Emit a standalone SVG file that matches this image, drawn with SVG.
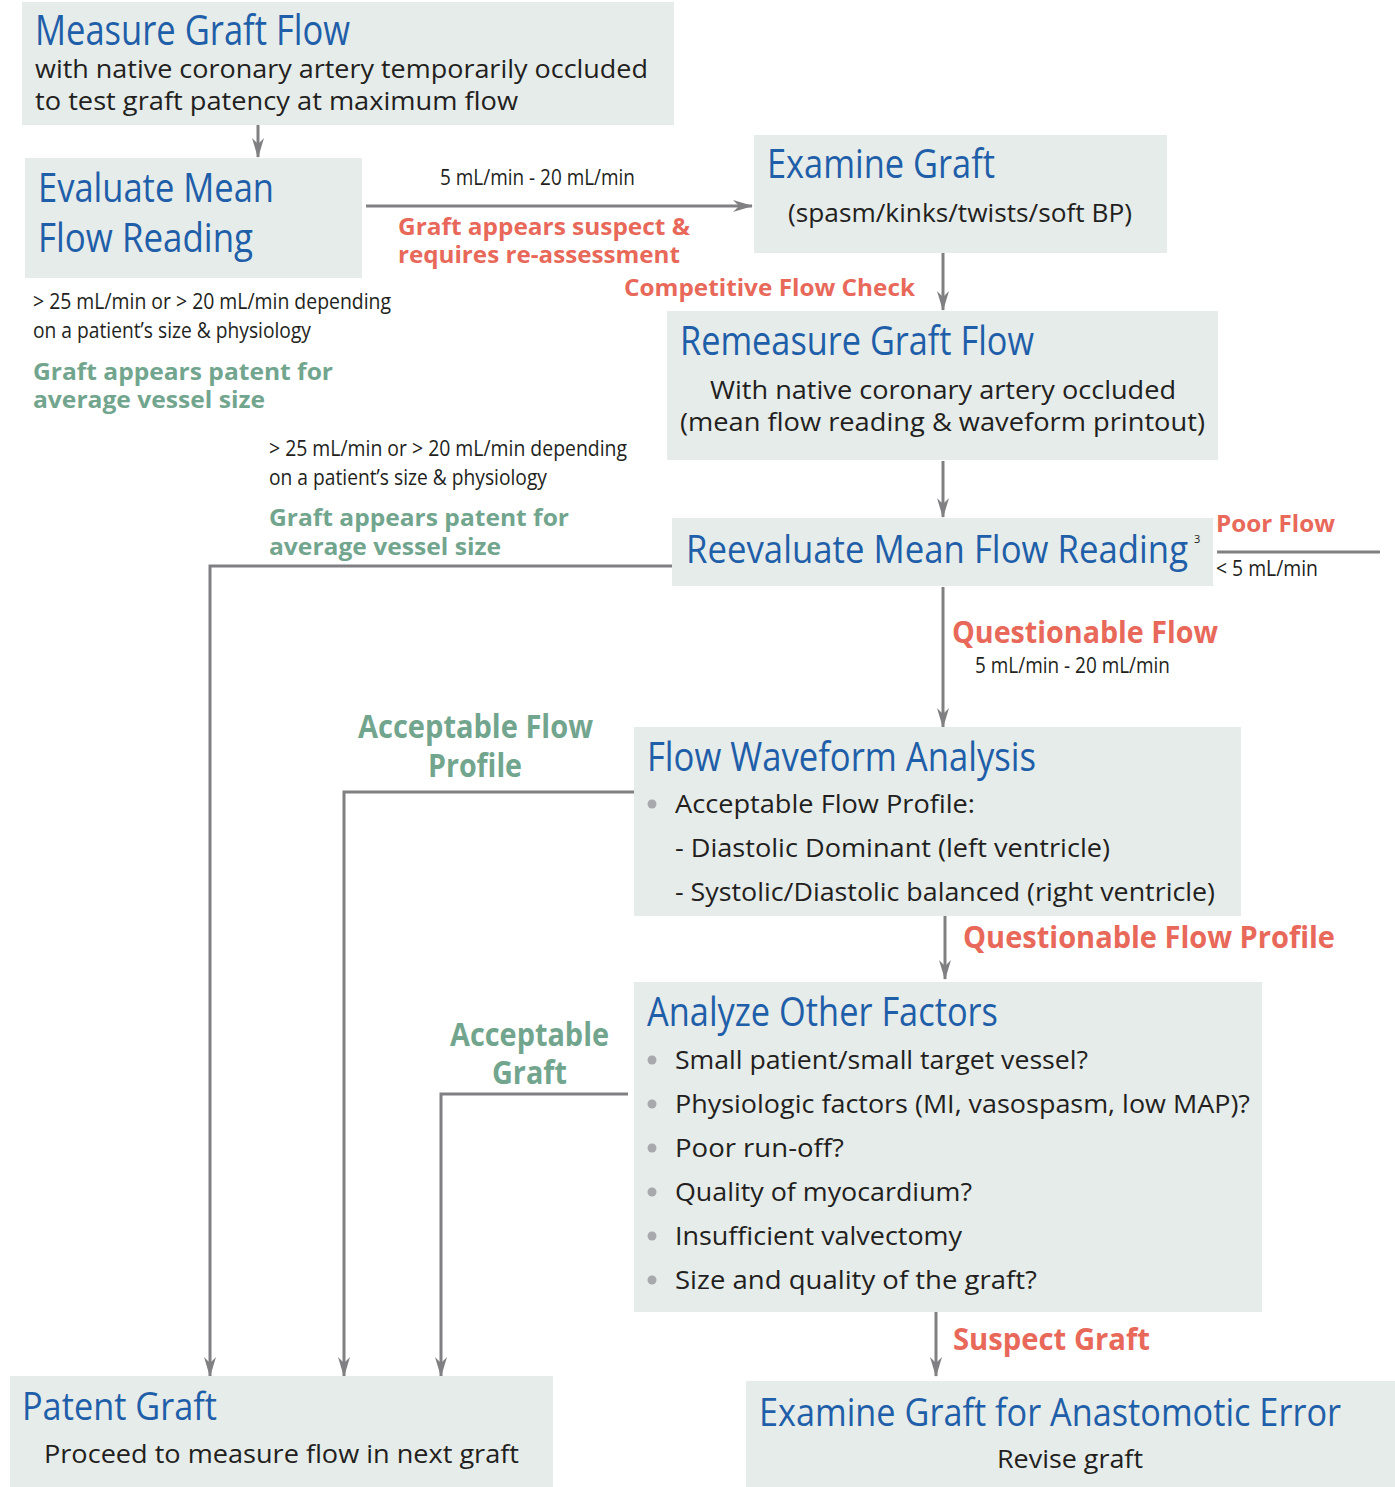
<svg xmlns="http://www.w3.org/2000/svg" width="1395" height="1487" viewBox="0 0 1395 1487">
<style>
.box{fill:#e6ecea}
.t{font-family:"Open Sans","Noto Sans",sans-serif;fill:#1f5ea8}
.b{font-family:"Open Sans","Noto Sans",sans-serif;fill:#231f20}
.r{font-family:"Open Sans","Noto Sans",sans-serif;font-weight:bold;fill:#e8685a}
.g{font-family:"Open Sans","Noto Sans",sans-serif;font-weight:bold;fill:#72a58e}
.ln{fill:none;stroke:#808083;stroke-width:3}
.dot{fill:#a7a9ac}
</style>
<defs>
<marker id="ah" viewBox="0 0 20 12" refX="19" refY="6" markerWidth="20" markerHeight="12" markerUnits="userSpaceOnUse" orient="auto">
<path d="M0,0 L20,6 L0,12 L6,6 z" fill="#808083"/>
</marker>
</defs>

<g id="connectors">
<line class="ln" x1="258" y1="125" x2="258" y2="157" marker-end="url(#ah)"/>
<line class="ln" x1="366" y1="206" x2="752" y2="206" marker-end="url(#ah)"/>
<line class="ln" x1="943" y1="253" x2="943" y2="310" marker-end="url(#ah)"/>
<line class="ln" x1="943" y1="461" x2="943" y2="517" marker-end="url(#ah)"/>
<line class="ln" x1="1217" y1="552" x2="1380" y2="552"/>
<path class="ln" d="M672,566 H210 V1376" marker-end="url(#ah)"/>
<line class="ln" x1="943" y1="587" x2="943" y2="727" marker-end="url(#ah)"/>
<path class="ln" d="M638,792 H344 V1376" marker-end="url(#ah)"/>
<line class="ln" x1="945" y1="916" x2="945" y2="979" marker-end="url(#ah)"/>
<path class="ln" d="M628,1094 H441 V1376" marker-end="url(#ah)"/>
<line class="ln" x1="936" y1="1310" x2="936" y2="1376" marker-end="url(#ah)"/>
</g>

<g id="measure">
<rect class="box" x="22" y="2" width="652" height="123"/>
<text class="t" x="35" y="45" font-size="42" textLength="315" lengthAdjust="spacingAndGlyphs">Measure Graft Flow</text>
<text class="b" x="35" y="78" font-size="25" textLength="613" lengthAdjust="spacingAndGlyphs">with native coronary artery temporarily occluded</text>
<text class="b" x="35" y="110" font-size="25" textLength="483" lengthAdjust="spacingAndGlyphs">to test graft patency at maximum flow</text>
</g>

<g id="evaluate">
<rect class="box" x="25" y="158" width="337" height="120"/>
<text class="t" x="38" y="202" font-size="41" textLength="236" lengthAdjust="spacingAndGlyphs">Evaluate Mean</text>
<text class="t" x="38" y="252" font-size="41" textLength="215" lengthAdjust="spacingAndGlyphs">Flow Reading</text>
</g>

<g id="label-suspect">
<text class="b" x="440" y="185" font-size="22" textLength="195" lengthAdjust="spacingAndGlyphs">5 mL/min - 20 mL/min</text>
<text class="r" x="398" y="235" font-size="24" textLength="292" lengthAdjust="spacingAndGlyphs">Graft appears suspect &amp;</text>
<text class="r" x="398" y="263" font-size="24" textLength="282" lengthAdjust="spacingAndGlyphs">requires re-assessment</text>
</g>

<g id="label-patent1">
<text class="b" x="33" y="309" font-size="22" textLength="358" lengthAdjust="spacingAndGlyphs">&gt; 25 mL/min or &gt; 20 mL/min depending</text>
<text class="b" x="33" y="338" font-size="22" textLength="278" lengthAdjust="spacingAndGlyphs">on a patient’s size &amp; physiology</text>
<text class="g" x="33" y="380" font-size="24" textLength="300" lengthAdjust="spacingAndGlyphs">Graft appears patent for</text>
<text class="g" x="33" y="408" font-size="24" textLength="232" lengthAdjust="spacingAndGlyphs">average vessel size</text>
</g>

<g id="examine">
<rect class="box" x="754" y="135" width="413" height="118"/>
<text class="t" x="767" y="178" font-size="41" textLength="228" lengthAdjust="spacingAndGlyphs">Examine Graft</text>
<text class="b" x="788" y="222" font-size="25" textLength="344" lengthAdjust="spacingAndGlyphs">(spasm/kinks/twists/soft BP)</text>
</g>

<text class="r" x="624" y="296" font-size="24" textLength="291" lengthAdjust="spacingAndGlyphs">Competitive Flow Check</text>

<g id="remeasure">
<rect class="box" x="667" y="311" width="551" height="149"/>
<text class="t" x="680" y="355" font-size="41" textLength="354" lengthAdjust="spacingAndGlyphs">Remeasure Graft Flow</text>
<text class="b" x="710" y="399" font-size="25" textLength="466" lengthAdjust="spacingAndGlyphs">With native coronary artery occluded</text>
<text class="b" x="680" y="431" font-size="25" textLength="525" lengthAdjust="spacingAndGlyphs">(mean flow reading &amp; waveform printout)</text>
</g>

<g id="label-patent2">
<text class="b" x="269" y="456" font-size="22" textLength="358" lengthAdjust="spacingAndGlyphs">&gt; 25 mL/min or &gt; 20 mL/min depending</text>
<text class="b" x="269" y="485" font-size="22" textLength="278" lengthAdjust="spacingAndGlyphs">on a patient’s size &amp; physiology</text>
<text class="g" x="269" y="526" font-size="24" textLength="300" lengthAdjust="spacingAndGlyphs">Graft appears patent for</text>
<text class="g" x="269" y="555" font-size="24" textLength="232" lengthAdjust="spacingAndGlyphs">average vessel size</text>
</g>

<g id="reevaluate">
<rect class="box" x="672" y="518" width="541" height="68"/>
<text class="t" transform="translate(686,563) scale(0.85,1)" x="0" y="0" font-size="39" textLength="590.6" lengthAdjust="spacingAndGlyphs">Reevaluate Mean Flow Reading</text>
<text class="b" x="1194" y="543" font-size="11">3</text>
</g>

<g id="label-poor">
<text class="r" x="1216" y="532" font-size="24" textLength="119" lengthAdjust="spacingAndGlyphs">Poor Flow</text>
<text class="b" x="1216" y="576" font-size="21" textLength="102" lengthAdjust="spacingAndGlyphs">&lt; 5 mL/min</text>
</g>

<g id="label-questionable">
<text class="r" x="952" y="643" font-size="30" textLength="266" lengthAdjust="spacingAndGlyphs">Questionable Flow</text>
<text class="b" x="975" y="673" font-size="22" textLength="195" lengthAdjust="spacingAndGlyphs">5 mL/min - 20 mL/min</text>
</g>

<g id="label-acc-profile">
<text class="g" x="358" y="738" font-size="32" textLength="235" lengthAdjust="spacingAndGlyphs">Acceptable Flow</text>
<text class="g" x="428" y="777" font-size="32" textLength="94" lengthAdjust="spacingAndGlyphs">Profile</text>
</g>

<g id="waveform">
<rect class="box" x="634" y="727" width="607" height="189"/>
<text class="t" x="647" y="771" font-size="41" textLength="389" lengthAdjust="spacingAndGlyphs">Flow Waveform Analysis</text>
<circle class="dot" cx="652" cy="804" r="4.5"/>
<text class="b" x="675" y="813" font-size="25" textLength="300" lengthAdjust="spacingAndGlyphs">Acceptable Flow Profile:</text>
<text class="b" x="675" y="857" font-size="25" textLength="435" lengthAdjust="spacingAndGlyphs">- Diastolic Dominant (left ventricle)</text>
<text class="b" x="675" y="901" font-size="25" textLength="540" lengthAdjust="spacingAndGlyphs">- Systolic/Diastolic balanced (right ventricle)</text>
</g>

<text class="r" x="963" y="948" font-size="30" textLength="372" lengthAdjust="spacingAndGlyphs">Questionable Flow Profile</text>

<g id="label-acc-graft">
<text class="g" x="450" y="1046" font-size="32" textLength="159" lengthAdjust="spacingAndGlyphs">Acceptable</text>
<text class="g" x="492" y="1084" font-size="32" textLength="75" lengthAdjust="spacingAndGlyphs">Graft</text>
</g>

<g id="factors">
<rect class="box" x="634" y="982" width="628" height="330"/>
<text class="t" x="647" y="1026" font-size="41" textLength="351" lengthAdjust="spacingAndGlyphs">Analyze Other Factors</text>
<circle class="dot" cx="652" cy="1060" r="4.5"/>
<circle class="dot" cx="652" cy="1104" r="4.5"/>
<circle class="dot" cx="652" cy="1148" r="4.5"/>
<circle class="dot" cx="652" cy="1192" r="4.5"/>
<circle class="dot" cx="652" cy="1236" r="4.5"/>
<circle class="dot" cx="652" cy="1280" r="4.5"/>
<text class="b" x="675" y="1069" font-size="25" textLength="413" lengthAdjust="spacingAndGlyphs">Small patient/small target vessel?</text>
<text class="b" x="675" y="1113" font-size="25" textLength="575" lengthAdjust="spacingAndGlyphs">Physiologic factors (MI, vasospasm, low MAP)?</text>
<text class="b" x="675" y="1157" font-size="25" textLength="169" lengthAdjust="spacingAndGlyphs">Poor run-off?</text>
<text class="b" x="675" y="1201" font-size="25" textLength="297" lengthAdjust="spacingAndGlyphs">Quality of myocardium?</text>
<text class="b" x="675" y="1245" font-size="25" textLength="287" lengthAdjust="spacingAndGlyphs">Insufficient valvectomy</text>
<text class="b" x="675" y="1289" font-size="25" textLength="362" lengthAdjust="spacingAndGlyphs">Size and quality of the graft?</text>
</g>

<text class="r" x="953" y="1350" font-size="30" textLength="197" lengthAdjust="spacingAndGlyphs">Suspect Graft</text>

<g id="patent">
<rect class="box" x="10" y="1376" width="543" height="111"/>
<text class="t" x="22" y="1420" font-size="39" textLength="195" lengthAdjust="spacingAndGlyphs">Patent Graft</text>
<text class="b" x="44" y="1463" font-size="25" textLength="475" lengthAdjust="spacingAndGlyphs">Proceed to measure flow in next graft</text>
</g>

<g id="anastomotic">
<rect class="box" x="746" y="1381" width="649" height="106"/>
<text class="t" transform="translate(759,1426) scale(0.85,1)" x="0" y="0" font-size="39" textLength="684.7" lengthAdjust="spacingAndGlyphs">Examine Graft for Anastomotic Error</text>
<text class="b" x="997" y="1468" font-size="25" textLength="146" lengthAdjust="spacingAndGlyphs">Revise graft</text>
</g>
</svg>
